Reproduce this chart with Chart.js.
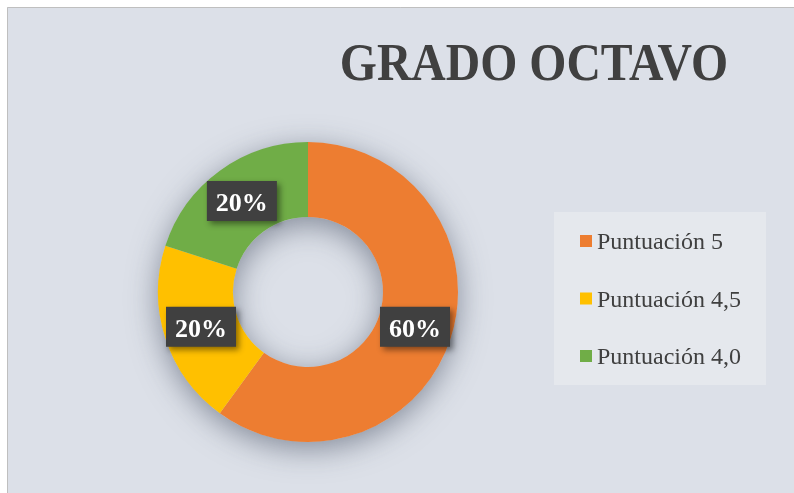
<!DOCTYPE html>
<html>
<head>
<meta charset="utf-8">
<title>Grado octavo</title>
<script src="https://cdn.jsdelivr.net/npm/chart.js@4.4.1/dist/chart.umd.min.js"></script>
<style>
  body { margin: 0; background: #ffffff; }
  #wrap { width: 794px; height: 493px; }
</style>
</head>
<body>
<div id="wrap"><canvas id="grafica" width="794" height="493"></canvas></div>
<script>
// datos del grafico
var etiquetas = ["Puntuación 5", "Puntuación 4,5", "Puntuación 4,0"];
var valores = [60, 20, 20];
var colores = ["#ed7d31", "#ffc000", "#70ad47"];
var titulo = "GRADO OCTAVO";

var serif = "'Liberation Serif', 'Times New Roman', serif";

// fondo, marco, titulo y leyenda
var fondo = {
  id: 'fondo',
  beforeDraw: function(chart) {
    var ctx = chart.ctx;
    ctx.save();
    ctx.fillStyle = "#ffffff";
    ctx.fillRect(0, 0, chart.width, chart.height);
    ctx.fillStyle = "#dce0e8";
    ctx.fillRect(7, 7, chart.width, chart.height);
    ctx.strokeStyle = "#bfbfbf";
    ctx.lineWidth = 1;
    ctx.beginPath();
    ctx.moveTo(7.5, chart.height);
    ctx.lineTo(7.5, 7.5);
    ctx.lineTo(chart.width, 7.5);
    ctx.stroke();

    // titulo
    ctx.fillStyle = "#404040";
    ctx.font = "bold 53px " + serif;
    ctx.textAlign = "right";
    ctx.textBaseline = "alphabetic";
    ctx.translate(728, 80);
    ctx.scale(0.9, 1);
    ctx.fillText(titulo, 0, 0);
    ctx.restore();

    // leyenda
    ctx.save();
    ctx.fillStyle = "#e5e8ed";
    ctx.fillRect(554, 212, 212, 173);
    ctx.font = "24px " + serif;
    ctx.textAlign = "left";
    ctx.textBaseline = "alphabetic";
    for (var i = 0; i < etiquetas.length; i++) {
      var y = 235 + i * 57.5;
      ctx.fillStyle = colores[i];
      ctx.fillRect(580, y, 12, 12);
      ctx.fillStyle = "#404040";
      ctx.fillText(etiquetas[i], 597, y + 14);
    }
    ctx.restore();
  },
  beforeDatasetsDraw: function(chart) {
    // sombra del anillo
    var arco = chart.getDatasetMeta(0).data[0];
    if (!arco) return;
    var ctx = chart.ctx;
    ctx.save();
    ctx.shadowColor = "rgba(60,70,90,0.55)";
    ctx.shadowBlur = 30;
    ctx.shadowOffsetY = 7;
    ctx.fillStyle = "#c9ced8";
    ctx.beginPath();
    ctx.arc(arco.x, arco.y, arco.outerRadius, 0, Math.PI * 2);
    ctx.arc(arco.x, arco.y, arco.innerRadius, Math.PI * 2, 0, true);
    ctx.closePath();
    ctx.fill();
    ctx.restore();
  }
};

// etiquetas de porcentaje
var etiquetasDatos = {
  id: 'etiquetasDatos',
  afterDatasetsDraw: function(chart) {
    var ctx = chart.ctx;
    var meta = chart.getDatasetMeta(0);
    var total = valores.reduce(function(a, b) { return a + b; }, 0);
    meta.data.forEach(function(arco, i) {
      var p = arco.getCenterPoint();
      var txt = Math.round(valores[i] / total * 100) + "%";
      ctx.save();
      ctx.shadowColor = "rgba(0,0,0,0.45)";
      ctx.shadowBlur = 6;
      ctx.shadowOffsetX = 3;
      ctx.shadowOffsetY = 3;
      ctx.fillStyle = "#404040";
      ctx.fillRect(p.x - 35, p.y - 20, 70, 40);
      ctx.restore();
      ctx.save();
      ctx.fillStyle = "#ffffff";
      ctx.font = "bold 26px " + serif;
      ctx.textAlign = "center";
      ctx.textBaseline = "alphabetic";
      ctx.fillText(txt, p.x, p.y + 10);
      ctx.restore();
    });
  }
};

new Chart(document.getElementById("grafica"), {
  type: 'doughnut',
  data: {
    labels: etiquetas,
    datasets: [{
      data: valores,
      backgroundColor: colores,
      borderWidth: 0
    }]
  },
  options: {
    responsive: false,
    animation: false,
    cutout: '50%',
    layout: { padding: { left: 158, right: 336, top: 142, bottom: 51 } },
    plugins: {
      legend: { display: false },
      title: { display: false },
      tooltip: { enabled: false }
    }
  },
  plugins: [fondo, etiquetasDatos]
});
</script>
</body>
</html>
